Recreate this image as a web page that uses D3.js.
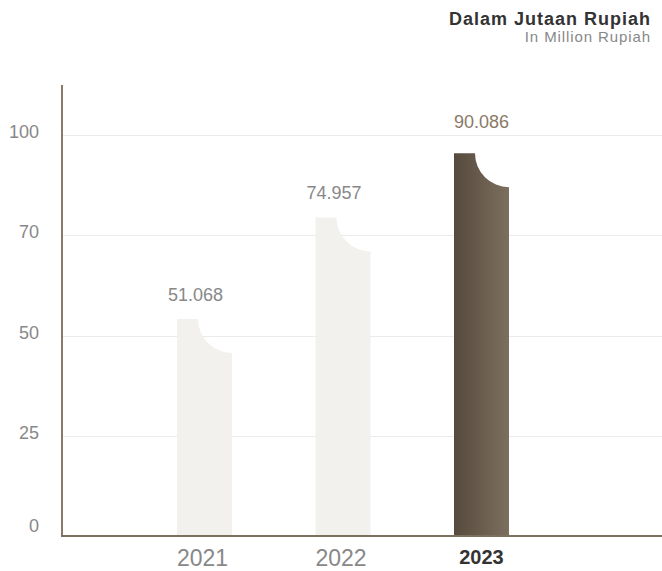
<!DOCTYPE html>
<html>
<head>
<meta charset="utf-8">
<script src="https://cdn.jsdelivr.net/npm/d3@7"></script>
<style>
    html, body { margin: 0; padding: 0; background: #fff; }
    svg { display: block; font-family: 'Liberation Sans', Arial, sans-serif; }
</style>
</head>
<body>
<div class="chart"></div>
<script>
const years = ['2021', '2022', '2023'];
const values = [51.068, 74.957, 90.086];
const valueLabels = ['51.068', '74.957', '90.086'];
const tickLabels = ['0', '25', '50', '70', '100'];
const highlightYear = '2023';

document.addEventListener('DOMContentLoaded', () => {
    'use strict';

    const WIDTH = 662, HEIGHT = 571;
    const BASE = 536, AXIS_X = 62;
    const BAR_WIDTH = 55, NOTCH = 34;

    let svg = d3.select('.chart').append('svg')
        .attr('width', WIDTH)
        .attr('height', HEIGHT);

    let grad = svg.append('defs').append('linearGradient')
        .attr('id', 'barGradient')
        .attr('x1', '0%').attr('x2', '100%');
    grad.append('stop').attr('offset', '0%').attr('stop-color', '#564a3e');
    grad.append('stop').attr('offset', '100%').attr('stop-color', '#7d6f5e');

    // The tick labels sit evenly spaced, independent of the bar values.
    let yTicks = d3.scalePoint()
        .domain(tickLabels)
        .range([BASE, 135]);

    let y = d3.scaleLinear()
        .domain([0, 100])
        .range([BASE, BASE - 425]);

    let x = d3.scalePoint()
        .domain(years)
        .range([204.5, 481.5]);

    // gridlines
    svg.append('g')
        .selectAll('line')
        .data(tickLabels.slice(1))
      .enter().append('line')
        .attr('x1', AXIS_X + 1)
        .attr('x2', WIDTH)
        .attr('y1', d => Math.round(yTicks(d)) + 0.5)
        .attr('y2', d => Math.round(yTicks(d)) + 0.5)
        .attr('stroke', '#ebebeb')
        .attr('stroke-width', 1);

    // y labels
    svg.append('g')
        .selectAll('text')
        .data(tickLabels)
      .enter().append('text')
        .attr('x', 39)
        .attr('y', d => yTicks(d) + (d === '0' ? -4 : 3))
        .attr('text-anchor', 'end')
        .attr('font-size', '18px')
        .attr('fill', '#888')
        .text(d => d);

    // bars with a concave notch on the top-right corner
    let barPath = (d, i) => {
        let x0 = x(d) - BAR_WIDTH / 2,
            x1 = x0 + BAR_WIDTH,
            top = y(values[i]);
        return 'M' + x0 + ',' + BASE +
            'L' + x0 + ',' + top +
            'L' + (x1 - NOTCH) + ',' + top +
            'A' + NOTCH + ',' + NOTCH + ' 0 0 0 ' + x1 + ',' + (top + NOTCH) +
            'L' + x1 + ',' + BASE + 'Z';
    };

    svg.append('g')
        .selectAll('path')
        .data(years)
      .enter().append('path')
        .attr('d', barPath)
        .attr('fill', d => d === highlightYear ? 'url(#barGradient)' : '#f2f1ed');

    // value labels
    svg.append('g')
        .selectAll('text')
        .data(years)
      .enter().append('text')
        .attr('x', d => x(d) + (d === highlightYear ? 0 : -9))
        .attr('y', (d, i) => y(values[i]) - (d === highlightYear ? 25 : 18))
        .attr('text-anchor', 'middle')
        .attr('font-size', '18px')
        .attr('fill', d => d === highlightYear ? '#8a7a68' : '#888')
        .text((d, i) => valueLabels[i]);

    // axes lines
    svg.append('line')
        .attr('x1', AXIS_X).attr('x2', AXIS_X)
        .attr('y1', 85).attr('y2', BASE + 1)
        .attr('stroke', '#8a7a68')
        .attr('stroke-width', 2);

    svg.append('line')
        .attr('x1', AXIS_X - 1).attr('x2', WIDTH)
        .attr('y1', BASE).attr('y2', BASE)
        .attr('stroke', '#7d6f5e')
        .attr('stroke-width', 2);

    // year labels
    svg.append('g')
        .selectAll('text')
        .data(years)
      .enter().append('text')
        .attr('x', d => x(d) - (d === highlightYear ? 0 : 2))
        .attr('y', d => d === highlightYear ? 564 : 566)
        .attr('text-anchor', 'middle')
        .attr('font-size', d => d === highlightYear ? '20px' : '23px')
        .attr('font-weight', d => d === highlightYear ? 'bold' : 'normal')
        .attr('fill', d => d === highlightYear ? '#333' : '#888')
        .text(d => d);

    // unit title
    svg.append('text')
        .attr('x', 651).attr('y', 25)
        .attr('text-anchor', 'end')
        .attr('font-size', '18px')
        .attr('font-weight', 'bold')
        .attr('letter-spacing', '1px')
        .attr('fill', '#333')
        .text('Dalam Jutaan Rupiah');

    svg.append('text')
        .attr('x', 651).attr('y', 42)
        .attr('text-anchor', 'end')
        .attr('font-size', '15px')
        .attr('letter-spacing', '0.9px')
        .attr('fill', '#888')
        .text('In Million Rupiah');
});
</script>
</body>
</html>
